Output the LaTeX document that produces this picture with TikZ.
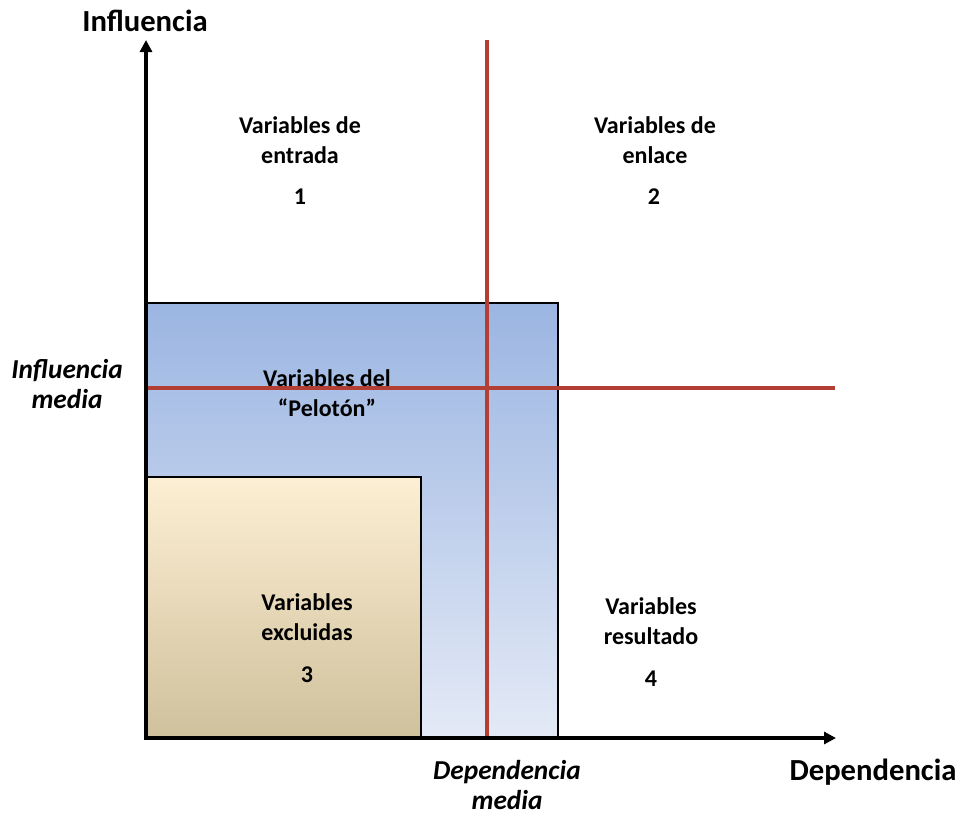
\documentclass[tikz,border=0pt]{standalone}
\usepackage{fontspec}
\setmainfont{Carlito}
\usetikzlibrary{arrows.meta}
\definecolor{axisred}{RGB}{178,62,52}
\definecolor{bluetop}{RGB}{155,181,226}
\definecolor{bluebot}{RGB}{228,234,246}
\definecolor{tantop}{RGB}{253,239,211}
\definecolor{tanbot}{RGB}{207,193,156}
\tikzset{
  lbl/.style={align=center, font=\fontsize{18}{22.5}\selectfont\bfseries, inner sep=0pt},
  numlbl/.style={font=\fontsize{18}{22}\selectfont\bfseries, inner sep=0pt},
  axlbl/.style={font=\fontsize{23}{27}\selectfont\bfseries, inner sep=0pt},
  midlbl/.style={align=center, font=\fontsize{20.5}{23}\selectfont\bfseries\itshape, inner sep=0pt},
  axisline/.style={line width=3pt, -{Triangle[length=9pt,width=9pt]}},
  redline/.style={line width=3pt, draw=axisred},
  zone/.style={draw=black, line width=1.6pt}
}
\begin{document}
\begin{tikzpicture}[x=0.75pt,y=-0.75pt]
\useasboundingbox (0,0) rectangle (959,814);

% origin and axis ends
\coordinate (O) at (146,738);
\coordinate (ytip) at (146,40);
\coordinate (xtip) at (836,738);

% shaded zones
\shade[top color=bluetop, bottom color=bluebot] (146,303) rectangle (558,738);
\draw[zone] (146,303) rectangle (558,738);
\shade[top color=tantop, bottom color=tanbot] (146,477) rectangle (421,738);
\draw[zone] (146,477) rectangle (421,738);

% average influence / dependence lines
\coordinate (vtop) at (487,40);
\coordinate (vbot) at (487,738);
\coordinate (hleft) at (146,388);
\coordinate (hright) at (835,388);
\draw[redline] (vtop) -- (vbot);
\draw[redline] (hleft) -- (hright);

% quadrant labels
\node[lbl] (q1) at (300,140) {Variables de\\entrada};
\node[numlbl] (n1) at (300,197) {1};
\node[lbl] (q2) at (655,140) {Variables de\\enlace};
\node[numlbl] (n2) at (654,197) {2};
\node[lbl] (pel) at (327,393) {Variables del\\“Pelotón”};
\node[lbl] (q3) at (307,617) {Variables\\excluidas};
\node[numlbl] (n3) at (307,675) {3};
\node[lbl] (q4) at (651,621) {Variables\\resultado};
\node[numlbl] (n4) at (651,679) {4};

% axis titles
\node[axlbl] (yl) at (145,21) {Influencia};
\node[axlbl] (xl) at (873,772) {Dependencia};
\node[midlbl] (im) at (67,384) {Influencia\\media};
\node[midlbl] (dm) at (507,785) {Dependencia\\media};

% axes
\draw[axisline] ([yshift=-1.5pt]O) -- (ytip);
\draw[axisline] ([xshift=-1.5pt]O) -- (xtip);
\end{tikzpicture}
\end{document}
